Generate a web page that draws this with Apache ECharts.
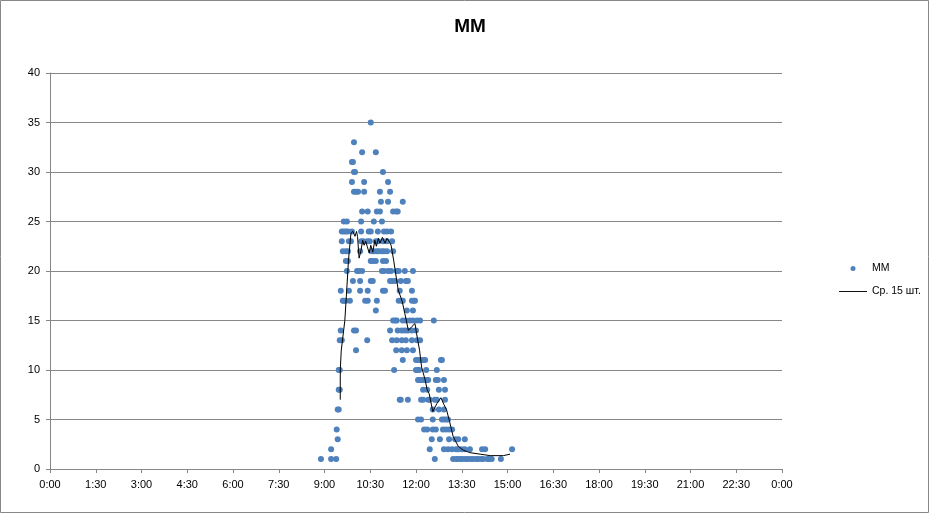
<!DOCTYPE html>
<html>
<head>
<meta charset="utf-8">
<script src="https://cdn.jsdelivr.net/npm/echarts@6/dist/echarts.min.js"></script>
<style>
  html, body { margin: 0; padding: 0; background: #fff; }
  #chart { width: 930px; height: 514px; }
</style>
</head>
<body>
<div id="chart"></div>
<script>
// x tick labels every 1:30, over the whole day
var tickStep = 90;
var yTicks = [0, 5, 10, 15, 20, 25, 30, 35, 40];

// scatter points "MM": [time, value]
var mmPoints = [
  ["10:31", 35],
  ["9:58", 33],
  ["10:14", 32], ["10:41", 32],
  ["9:54", 31], ["9:56", 31],
  ["9:58", 30], ["10:00", 30], ["10:55", 30],
  ["9:54", 29], ["10:18", 29], ["11:05", 29],
  ["9:58", 28], ["10:02", 28], ["10:06", 28], ["10:18", 28], ["10:49", 28], ["11:09", 28],
  ["10:51", 27], ["11:05", 27], ["11:34", 27],
  ["10:14", 26], ["10:25", 26], ["10:43", 26], ["10:49", 26], ["11:15", 26], ["11:21", 26], ["11:24", 26],
  ["9:38", 25], ["9:44", 25], ["10:12", 25], ["10:37", 25], ["10:53", 25],
  ["9:34", 24], ["9:38", 24], ["9:42", 24], ["9:46", 24], ["9:54", 24], ["10:12", 24], ["10:27", 24], ["10:31", 24], ["10:45", 24], ["10:57", 24], ["11:03", 24], ["11:11", 24],
  ["9:34", 23], ["9:48", 23], ["9:52", 23], ["10:12", 23], ["10:16", 23], ["10:24", 23], ["10:29", 23], ["10:41", 23], ["10:45", 23], ["10:55", 23], ["11:03", 23], ["11:13", 23],
  ["9:36", 22], ["9:42", 22], ["9:46", 22], ["10:10", 22], ["10:33", 22], ["10:37", 22], ["10:43", 22], ["10:47", 22], ["10:53", 22], ["10:57", 22], ["11:03", 22], ["11:15", 22],
  ["9:42", 21], ["9:46", 21], ["10:31", 21], ["10:35", 21], ["10:41", 21], ["10:55", 21], ["11:01", 21],
  ["9:44", 20], ["10:04", 20], ["10:08", 20], ["10:14", 20], ["10:53", 20], ["10:57", 20], ["11:05", 20], ["11:11", 20], ["11:22", 20], ["11:26", 20], ["11:38", 20], ["11:54", 20],
  ["9:56", 19], ["10:10", 19], ["10:31", 19], ["10:35", 19], ["11:09", 19], ["11:13", 19], ["11:19", 19], ["11:30", 19], ["11:40", 19], ["11:44", 19],
  ["9:32", 18], ["9:48", 18], ["10:10", 18], ["10:25", 18], ["10:55", 18], ["10:59", 18], ["11:28", 18], ["11:52", 18],
  ["9:36", 17], ["9:38", 17], ["9:42", 17], ["9:50", 17], ["10:20", 17], ["10:25", 17], ["10:43", 17], ["11:26", 17], ["11:32", 17], ["11:34", 17], ["11:52", 17], ["11:56", 17], ["11:58", 17],
  ["10:41", 16], ["11:42", 16], ["11:54", 16],
  ["11:15", 15], ["11:19", 15], ["11:22", 15], ["11:34", 15], ["11:40", 15], ["11:48", 15], ["11:54", 15], ["12:02", 15], ["12:08", 15], ["12:35", 15],
  ["9:32", 14], ["9:58", 14], ["10:02", 14], ["11:09", 14], ["11:24", 14], ["11:32", 14], ["11:38", 14], ["11:44", 14], ["11:52", 14], ["12:00", 14],
  ["9:30", 13], ["9:34", 13], ["10:24", 13], ["11:13", 13], ["11:22", 13], ["11:32", 13], ["11:40", 13], ["11:52", 13], ["12:02", 13], ["12:08", 13],
  ["10:02", 12], ["11:21", 12], ["11:32", 12], ["11:42", 12], ["11:54", 12],
  ["11:34", 11], ["12:00", 11], ["12:04", 11], ["12:08", 11], ["12:14", 11], ["12:18", 11], ["12:49", 11], ["12:51", 11],
  ["9:28", 10], ["9:30", 10], ["11:17", 10], ["12:00", 10], ["12:04", 10], ["12:06", 10], ["12:20", 10], ["12:41", 10],
  ["12:04", 9], ["12:06", 9], ["12:10", 9], ["12:14", 9], ["12:18", 9], ["12:22", 9], ["12:24", 9], ["12:39", 9], ["12:43", 9], ["12:55", 9],
  ["9:28", 8], ["9:30", 8], ["12:14", 8], ["12:22", 8], ["12:45", 8], ["12:57", 8],
  ["11:28", 7], ["11:30", 7], ["11:44", 7], ["12:10", 7], ["12:14", 7], ["12:24", 7], ["12:27", 7], ["12:37", 7], ["12:41", 7], ["12:57", 7],
  ["9:26", 6], ["9:28", 6], ["12:33", 6], ["12:45", 6], ["12:55", 6],
  ["12:04", 5], ["12:10", 5], ["12:33", 5], ["12:51", 5], ["12:55", 5], ["12:59", 5], ["13:03", 5],
  ["9:24", 4], ["12:16", 4], ["12:22", 4], ["12:33", 4], ["12:39", 4], ["12:53", 4], ["12:59", 4], ["13:05", 4], ["13:11", 4],
  ["9:26", 3], ["12:31", 3], ["12:47", 3], ["13:05", 3], ["13:17", 3], ["13:23", 3], ["13:36", 3],
  ["9:13", 2], ["12:27", 2], ["12:55", 2], ["13:03", 2], ["13:11", 2], ["13:19", 2], ["13:23", 2], ["13:30", 2], ["13:36", 2], ["13:46", 2], ["14:10", 2], ["14:16", 2], ["15:09", 2],
  ["8:53", 1], ["9:13", 1], ["9:23", 1], ["12:37", 1], ["13:13", 1], ["13:19", 1], ["13:23", 1], ["13:28", 1], ["13:32", 1], ["13:38", 1], ["13:42", 1], ["13:48", 1], ["13:52", 1], ["13:58", 1], ["14:02", 1], ["14:08", 1], ["14:12", 1], ["14:20", 1], ["14:24", 1], ["14:29", 1], ["14:47", 1]
];

// moving average line "Ср. 15 шт."
var avgTimes = ["9:31", "9:31", "9:33", "9:40", "9:46", "9:47", "9:52", "9:56", "10:00", "10:03", "10:05", "10:08",
  "10:12", "10:15", "10:18", "10:21", "10:24", "10:28", "10:31", "10:35", "10:39", "10:42", "10:46", "10:49",
  "10:54", "10:59", "11:03", "11:07", "11:11", "11:16", "11:21", "11:25", "11:33", "11:38", "11:45", "11:52",
  "11:58", "12:01", "12:07", "12:11", "12:18", "12:22", "12:26", "12:33", "12:41", "12:49", "12:55", "13:00",
  "13:06", "13:13", "13:23", "13:33", "13:46", "14:06", "14:26", "14:52", "15:05"];
var avgValues = [7, 10, 12, 15, 20, 21, 23.8, 24, 23.5, 24, 23.5, 21.3,
  22.1, 23.1, 22.6, 23, 22.5, 21.8, 22.6, 21.9, 23.1, 22.5, 23.3, 22.8,
  23.4, 22.8, 23.3, 23, 22.6, 21.1, 19.4, 18.1, 16.9, 15.7, 14, 14.4,
  14.7, 13.7, 12, 10.3, 9, 8, 7.6, 5.8, 6.6, 7.2, 6.5, 6,
  4.8, 3.3, 2.3, 1.9, 1.65, 1.5, 1.35, 1.35, 1.5];

function toMin(s) {
  var p = s.split(":");
  return parseInt(p[0], 10) * 60 + parseInt(p[1], 10);
}
function fmtTime(v) {
  var m = Math.round(v) % 1440;
  var mm = m % 60;
  return Math.floor(m / 60) + ":" + (mm < 10 ? "0" + mm : mm);
}

var mmData = mmPoints.map(function (p) { return [toMin(p[0]), p[1]]; });
var avgData = avgTimes.map(function (t, i) { return [toMin(t), avgValues[i]]; });

var font = "Liberation Sans";
var gridColor = "#878787";

var chart = echarts.init(document.getElementById("chart"));
chart.setOption({
  animation: false,
  backgroundColor: "#fff",
  textStyle: { fontFamily: font },
  title: {
    text: "MM",
    left: 465,
    textAlign: "center",
    top: 12,
    textStyle: { fontSize: 19, fontWeight: "bold", color: "#000", fontFamily: font }
  },
  legend: {
    orient: "vertical",
    left: 834,
    top: 258,
    itemWidth: 28,
    itemHeight: 5,
    itemGap: 12,
    textStyle: { fontSize: 10.5, color: "#000" },
    data: [
      { name: "MM", icon: "circle" },
      { name: "Ср. 15 шт.", icon: "path://M0,0H30V1H0Z" }
    ]
  },
  graphic: [{
    type: "rect",
    shape: { x: 0.5, y: 0.5, width: 928, height: 512 },
    style: { fill: "none", stroke: gridColor, lineWidth: 1 },
    silent: true
  }],
  grid: { left: 50, right: 148, top: 73, bottom: 45 },
  xAxis: {
    type: "value",
    min: 0,
    max: 1440,
    interval: tickStep,
    axisLine: { lineStyle: { color: gridColor } },
    axisTick: { show: true, length: 4, lineStyle: { color: gridColor } },
    splitLine: { show: false },
    axisLabel: { formatter: fmtTime, color: "#000", fontSize: 11, margin: 10 }
  },
  yAxis: {
    type: "value",
    min: yTicks[0],
    max: yTicks[yTicks.length - 1],
    interval: yTicks[1] - yTicks[0],
    axisLine: { show: true, lineStyle: { color: gridColor } },
    axisTick: { show: true, length: 4, lineStyle: { color: gridColor } },
    splitLine: { lineStyle: { color: gridColor } },
    axisLabel: { color: "#000", fontSize: 11, margin: 10 }
  },
  series: [
    {
      name: "MM",
      type: "scatter",
      symbol: "circle",
      symbolSize: 6,
      itemStyle: { color: "#4f81bd", opacity: 1 },
      data: mmData,
      z: 2
    },
    {
      name: "Ср. 15 шт.",
      type: "line",
      symbol: "none",
      lineStyle: { color: "#000", width: 1 },
      itemStyle: { color: "#000" },
      data: avgData,
      z: 3
    }
  ]
});
</script>
</body>
</html>
